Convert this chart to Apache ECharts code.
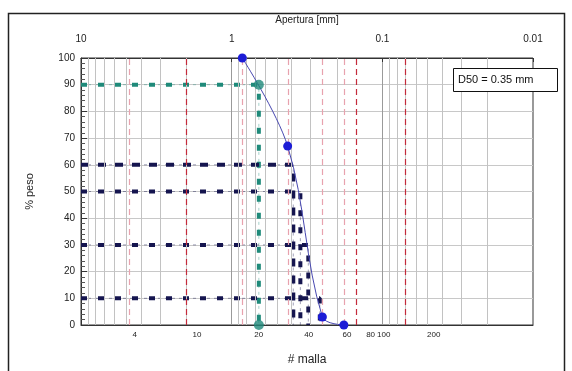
<!DOCTYPE html>
<html>
<head>
<meta charset="utf-8">
<script src="https://cdn.jsdelivr.net/npm/echarts@6/dist/echarts.min.js"></script>
<style>html,body{margin:0;padding:0;background:#fff;}#c{width:572px;height:371px;}</style>
</head>
<body>
<div id="c"></div>
<script>
// ---- data ----
const sieveMm = [0.85, 0.425, 0.25, 0.18];          // abertura (mm) de los tamices con dato
const passing = [100, 67, 3, 0];                    // % que pasa
const dLevels = [90, 60, 50, 30, 10];               // D90, D60, D50, D30, D10
const dSizes = [0.66, 0.39, 0.35, 0.31, 0.26];      // mm
const meshNumbers = ['4', '10', '20', '40', '60', '80', '100', '200'];
const meshMm = [4.75, 2.0, 0.85, 0.425, 0.25, 0.18, 0.15, 0.075];
const topMin = 0.01, topMax = 10;
const bottomLogMin = -1.723, bottomLogMax = 1.0;   // escala del eje "# malla" (log10 mm)
const d50Text = 'D50 = 0.35 mm';

// ---- chart ----
const chart = echarts.init(document.getElementById('c'), null, {renderer: 'canvas'});
const FONT = 'Liberation Sans, Arial, sans-serif';

const minorGrid = [];
[-2, -1, 0].forEach(k => { for (let m = 2; m <= 9; m++) minorGrid.push(m * Math.pow(10, k)); });
const strongSieves = [2.0, 0.15, 0.075];

const series = [];
// minor vertical gridlines + sieve lines
series.push({
  type: 'line', xAxisIndex: 0, yAxisIndex: 0, data: [], silent: true, z: 1,
  markLine: {
    silent: true, symbol: 'none', animation: false, label: {show: false},
    data: minorGrid.map(v => ({xAxis: v, lineStyle: {color: '#c2c2c2', width: 1, type: 'solid'}}))
      .concat(meshMm.map(v => ({xAxis: v, lineStyle: {color: strongSieves.includes(v) ? '#c42a3a' : '#e8a2ae', width: 1.2, type: [6, 4]}})))
  }
});
// D lines
dLevels.forEach((p, i) => {
  const teal = p === 90;
  const col = teal ? '#1f8a7a' : '#15154f';
  const pts = [[topMax, p], [dSizes[i], p], [dSizes[i], 0]];
  series.push({
    type: 'line', xAxisIndex: 0, data: pts, symbol: 'none', z: 3, silent: true,
    lineStyle: {color: col, width: 1, type: [3, 4], opacity: 0.4}
  });
  series.push({
    type: 'line', xAxisIndex: 0, data: pts, symbol: 'none', z: 3, silent: true,
    lineStyle: {color: col, width: 4, type: p === 60 ? [8, 9] : [6, 11]}
  });
});
// curve
series.push({
  type: 'line', xAxisIndex: 0, data: sieveMm.map((d, i) => [d, passing[i]]), smooth: 0.35,
  symbol: 'circle', symbolSize: 9, z: 5,
  itemStyle: {color: '#1c1cd6'}, lineStyle: {color: '#4848b0', width: 1}
});
// D90 markers
series.push({
  type: 'scatter', xAxisIndex: 0, data: [[dSizes[0], dLevels[0]], [dSizes[0], 0]],
  symbolSize: 10, z: 6, itemStyle: {color: '#1f8a7a'}
});

chart.setOption({
  animation: false,
  textStyle: {fontFamily: FONT},
  grid: {left: 81, right: 39, top: 58, bottom: 44, show: true, borderColor: '#333', borderWidth: 1, backgroundColor: 'transparent'},
  xAxis: [
    {
      type: 'log', logBase: 10, min: topMin, max: topMax, inverse: true, position: 'top',
      name: 'Apertura [mm]', nameLocation: 'middle', nameGap: 33,
      nameTextStyle: {fontSize: 10, color: '#222', fontFamily: FONT},
      axisLine: {show: true, onZero: false, lineStyle: {color: '#333'}},
      axisTick: {show: true, inside: true, length: 4, lineStyle: {color: '#333'}},
      axisLabel: {fontSize: 10, color: '#222', margin: 14, fontFamily: FONT,
        formatter: v => String(+v.toPrecision(3))},
      splitLine: {show: true, lineStyle: {color: '#9a9a9a', width: 1}}
    },
    {
      type: 'value', min: bottomLogMin, max: bottomLogMax, inverse: true, position: 'bottom',
      name: '# malla', nameLocation: 'middle', nameGap: 29,
      nameTextStyle: {fontSize: 12, color: '#222', fontFamily: FONT},
      axisLine: {show: true, onZero: false, lineStyle: {color: '#333'}},
      axisTick: {show: false},
      splitLine: {show: false},
      axisLabel: {fontSize: 8, color: '#222', margin: 6, fontFamily: FONT,
        customValues: meshMm.map(v => Math.log10(v)),
        formatter: v => {
          const i = meshMm.findIndex(m => Math.abs(Math.log10(m) - v) < 1e-6);
          return i >= 0 ? meshNumbers[i] : '';
        }}
    }
  ],
  yAxis: {
    type: 'value', min: 0, max: 100, interval: 10, position: 'left',
    name: '% peso', nameLocation: 'middle', nameGap: 46,
    nameTextStyle: {fontSize: 11, color: '#222', fontFamily: FONT},
    axisLine: {show: true, onZero: false, lineStyle: {color: '#333'}},
    axisTick: {show: true, inside: true, length: 6, lineStyle: {color: '#333'}},
    minorTick: {show: true, splitNumber: 5, length: 4, lineStyle: {color: '#555'}},
    axisLabel: {fontSize: 10, color: '#222', margin: 6, fontFamily: FONT},
    splitLine: {show: true, lineStyle: {color: '#c8c8c8', width: 1}}
  },
  graphic: [
    {type: 'rect', shape: {x: 8.5, y: 13.5, width: 556, height: 400}, style: {fill: 'none', stroke: '#222', lineWidth: 1.5}, silent: true, z: 0},
    {type: 'rect', shape: {x: 453.5, y: 68.5, width: 104, height: 23}, style: {fill: '#fff', stroke: '#111', lineWidth: 1}, z: 10},
    {type: 'text', x: 458, y: 80, style: {text: d50Text, fill: '#111', font: '11px ' + FONT, verticalAlign: 'middle'}, z: 11}
  ],
  series: series
});
</script>
</body>
</html>
